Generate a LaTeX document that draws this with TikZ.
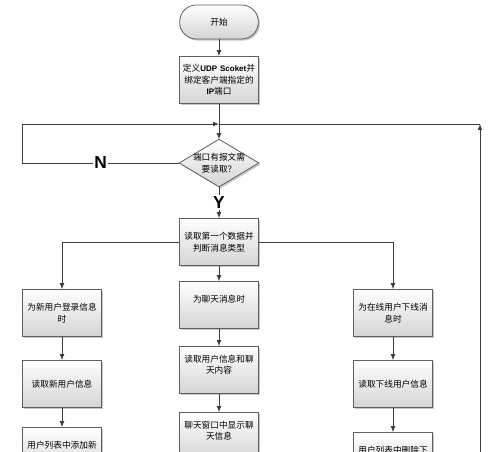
\documentclass[tikz,border=0pt]{standalone}
\usepackage{fontspec}
\usetikzlibrary{arrows.meta,shadows,backgrounds}
\newfontfamily\cjk{Noto Sans CJK SC}
\newfontfamily\lab{Liberation Sans}
\definecolor{edge}{RGB}{60,60,60}
\definecolor{rim}{RGB}{95,95,95}
\definecolor{shade}{RGB}{212,212,212}

\begin{document}
\begin{tikzpicture}[x=0.75pt,y=0.75pt,yscale=-1,xscale=1,
  cast/.style={drop shadow={shadow xshift=1.2pt,shadow yshift=-1.2pt,fill=black!50,opacity=0.45}},
  proc/.style={draw=rim,line width=0.6pt,top color=white,bottom color=shade,cast,
    minimum width=59.25pt,minimum height=35.25pt,text width=57pt,align=center,inner sep=1pt,
    font=\cjk\fontsize{6.5}{8.6}\selectfont},
  term/.style={proc,rounded corners=12.5pt,minimum width=58.5pt,minimum height=25.5pt},
  ask/.style={minimum width=59.25pt,minimum height=35.25pt,inner sep=0pt,align=center,
    font=\cjk\fontsize{6.5}{8.6}\selectfont},
  arr/.style={draw=edge,line width=0.6pt,-{Latex[length=4.5pt,width=3.6pt]}},
  line/.style={draw=edge,line width=0.6pt},
  tag/.style={fill=white,inner sep=1pt,font=\lab\bfseries\fontsize{13}{13}\selectfont}]
\useasboundingbox (0,0) rectangle (500,452);
\clip (0,0) rectangle (500,452);

%Shape: Terminator [id:start]
\node[term] (start) at (219,22) {开始};
%Shape: Rectangle [id:bind]
\node[proc] (bind) at (219,80) {\mbox{定义{\lab\bfseries\fontsize{6}{8.6}\selectfont UDP Scoket}并}\\绑定客户端指定的\\{\lab\bfseries\fontsize{6}{8.6}\selectfont IP}端口};
\coordinate (join) at (219,124);
%Shape: Diamond [id:ask]
\node[ask] (ask) at (219,163) {端口有报文需\\要读取？};
\begin{scope}[on background layer]
\path[draw=rim,line width=0.6pt,top color=white,bottom color=shade,cast] (ask.north) -- (ask.east) -- (ask.south) -- (ask.west) -- cycle;
\end{scope}
%Shape: Rectangle [id:sort]
\node[proc] (sort) at (219,242) {读取第一个数据并\\判断消息类型};

% left branch
\node[proc] (newin) at (62,313) {为新用户登录信息\\时};
\node[proc] (newrd) at (62,384) {读取新用户信息};
\node[proc] (newadd) at (62,451) {用户列表中添加新\\用户信息};
% middle branch
\node[proc] (chatin) at (219,305) {为聊天消息时\\\mbox{}};
\node[proc] (chatrd) at (219,370) {读取用户信息和聊\\天内容\\\mbox{}};
\node[proc] (chatshow) at (219,436) {聊天窗口中显示聊\\天信息\\\mbox{}};
% right branch
\node[proc] (offin) at (393,313) {为在线用户下线消\\息时};
\node[proc] (offrd) at (393,384) {读取下线用户信息};
\node[proc] (offdel) at (393,456) {用户列表中删除下\\线用户信息};

\coordinate (back) at (22,124);
\coordinate (rbot) at (480,470);
\coordinate (rtop) at (480,124);

%Straight Lines
\draw[arr] (start) -- (bind);
\draw[arr] (bind) -- (ask);
\draw[arr] (ask.west) -| node[tag,pos=0.25] {N} (back) -- (join);
\draw[arr] (ask) -- node[tag] {Y} (sort);
\draw[arr] (sort.west) -| (newin);
\draw[arr] (sort) -- (chatin);
\draw[arr] (sort.east) -| (offin);
\draw[arr] (newin) -- (newrd);
\draw[arr] (newrd) -- (newadd);
\draw[arr] (chatin) -- (chatrd);
\draw[arr] (chatrd) -- (chatshow);
\draw[arr] (offin) -- (offrd);
\draw[arr] (offrd) -- (offdel);
\draw[arr] (rbot) -- (rtop);
\draw[line] (rtop) -- (join);

\end{tikzpicture}
\end{document}
